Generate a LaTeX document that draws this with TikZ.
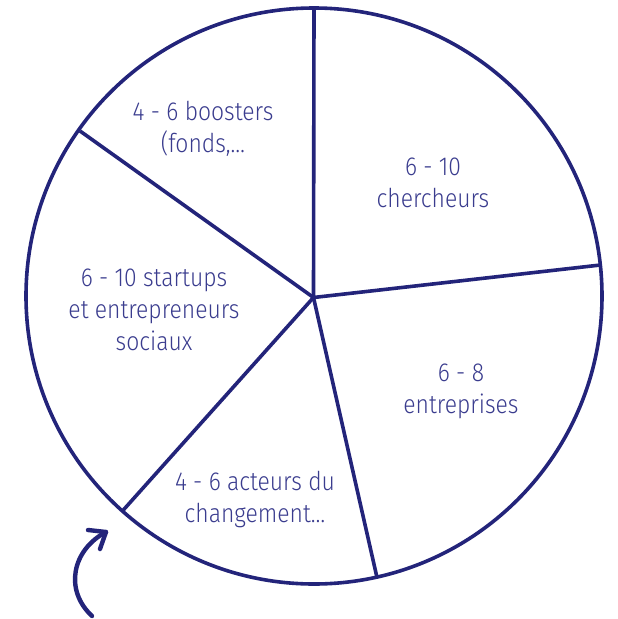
\documentclass[tikz,border=0pt]{standalone}
\usepackage{fontspec}
\setmainfont{Fira Sans}[UprightFont=* Light, FakeStretch=0.88]
\definecolor{navy}{HTML}{23247A}
\definecolor{txtblue}{HTML}{3A3C8E}
\tikzset{
  pieline/.style={draw=navy, line width=3.6pt},
  arrowline/.style={draw=navy, line width=4.4pt, line cap=round, line join=round},
  lbl/.style={text=txtblue, align=center, font=\fontsize{26}{31.7}\selectfont, inner sep=0pt, anchor=base},
}
\begin{document}
\begin{tikzpicture}[x=1pt,y=-1pt]
\useasboundingbox (0,0) rectangle (618,619);
\coordinate (c) at (313.5,297.5);
\coordinate (p1) at (314,8);
\coordinate (p2) at (600.5,265);
\coordinate (p3) at (377,577.5);
\coordinate (p4) at (122,511.5);
\coordinate (p5) at (80,131);
\draw[pieline] (314,296) circle[radius=288];
\draw[pieline] (c) -- (p1);
\draw[pieline] (c) -- (p2);
\draw[pieline] (c) -- (p3);
\draw[pieline] (c) -- (p4);
\draw[pieline] (c) -- (p5);
\node[lbl] (boost) at (203,152.2) {4 - 6 boosters\\(fonds,…};
\node[lbl] (cherch) at (433,207.5) {6 - 10\\chercheurs};
\node[lbl] (start) at (154,350) {6 - 10 startups\\et entrepreneurs\\sociaux};
\node[lbl] (entr) at (461,413) {6 - 8\\entreprises};
\node[lbl] (act) at (255,522) {4 - 6 acteurs du\\changement…};
\coordinate (a0) at (92,616);
\coordinate (a1) at (106,532);
\coordinate (h1) at (88,530);
\coordinate (h2) at (100,549);
\draw[arrowline] (a0) .. controls (64,590) and (72,550) .. (a1);
\draw[arrowline] (h1) -- (a1) -- (h2);
\end{tikzpicture}
\end{document}
